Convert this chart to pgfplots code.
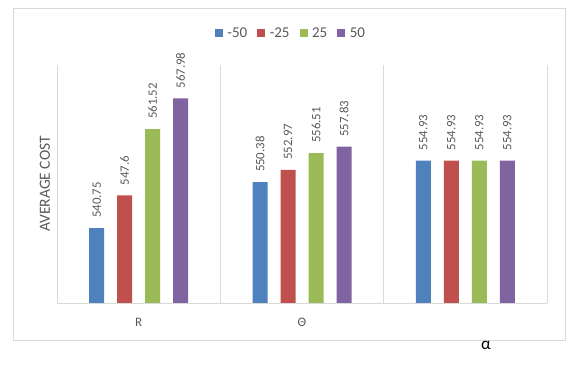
\documentclass[border=0pt]{standalone}
\usepackage{fontspec}
\setmainfont{Carlito}
\usepackage{pgfplots}
\pgfplotsset{compat=1.18}
\usetikzlibrary{calc}
\definecolor{cblue}{HTML}{4F81BD}
\definecolor{cred}{HTML}{C0504D}
\definecolor{cgreen}{HTML}{9BBB59}
\definecolor{cpurple}{HTML}{8064A2}
\definecolor{txtgray}{HTML}{595959}
\definecolor{linegray}{HTML}{D9D9D9}

\begin{document}
\begin{tikzpicture}
\begin{axis}[
    name=ax,
    scale only axis,
    width=490pt, height=238pt,
    ybar=13pt, bar width=15pt,
    xmin=-0.5, xmax=2.5,
    ymin=525, ymax=575,
    clip=false,
    axis x line*=bottom, axis y line*=left,
    axis line style={draw=linegray, -},
    xtick={0,1,2}, xticklabels={R,Θ,{}},
    ytick=\empty,
    minor xtick={0.5,1.5,2.5},
    xminorgrids=true,
    minor grid style={draw=linegray},
    major tick length=0pt, minor tick length=0pt,
    xticklabel style={font=\fontsize{13}{15}\selectfont, text=txtgray, anchor=center, yshift=-19pt},
    ylabel={AVERAGE COST},
    ylabel style={font=\fontsize{15.5}{18}\selectfont, text=txtgray, at={(axis description cs:-0.0245,0.5)}, anchor=center},
    /pgf/number format/assume math mode=true,
    nodes near coords,
    every node near coord/.append style={rotate=90, anchor=west, inner xsep=10pt, inner ysep=0pt,
        font=\fontsize{12.8}{14}\selectfont, text=txtgray},
    legend columns=4,
    legend style={draw=none, fill=none, at={(0.4755,1.134)}, anchor=center,
        font=\fontsize{15}{17}\selectfont, text=txtgray,
        nodes={inner sep=0pt},
        /tikz/every odd column/.append style={column sep=4.5pt},
        /tikz/every even column/.append style={column sep=10pt}},
    legend image code/.code={\fill[#1, draw=none] (0pt,-4pt) rectangle (8pt,4pt);},
]
\addplot[fill=cblue, draw=none] coordinates {(0,540.75) (1,550.38) (2,554.93)};
\addplot[fill=cred, draw=none] coordinates {(0,547.6) (1,552.97) (2,554.93)};
\addplot[fill=cgreen, draw=none] coordinates {(0,561.52) (1,556.51) (2,554.93)};
\addplot[fill=cpurple, draw=none] coordinates {(0,567.98) (1,557.83) (2,554.93)};
\legend{-50,-25,25,50}
\end{axis}
\coordinate (o) at ($(ax.south west)+(-57pt,-63pt)$);
\draw[linegray] ($(o)+(13pt,26pt)$) rectangle ($(o)+(565pt,358pt)$);
\node[font=\fontsize{17}{19}\selectfont] at ($(o)+(486pt,21pt)$) {α};
\path[use as bounding box] (o) rectangle ($(o)+(582pt,366pt)$);
\end{tikzpicture}
\end{document}
